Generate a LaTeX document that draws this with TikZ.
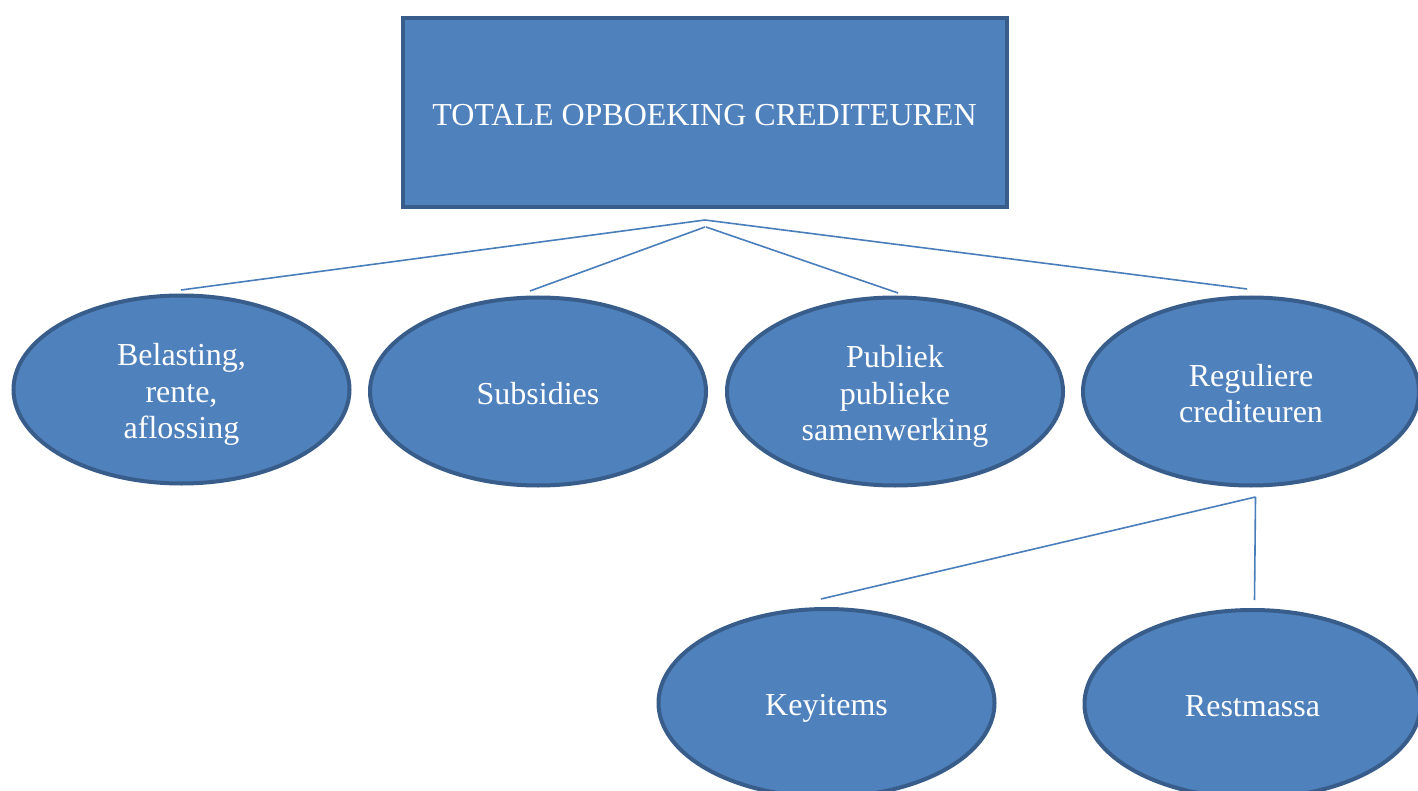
\documentclass[tikz,border=0pt]{standalone}
\usepackage{fontspec}
\setmainfont{Liberation Serif}
\usetikzlibrary{shapes.geometric}
\definecolor{boxfill}{HTML}{4F81BD}
\definecolor{boxline}{HTML}{385D8A}
\definecolor{linkcol}{HTML}{4A7EBB}
\newcommand{\sline}[1]{\strut #1}
\newcommand{\fline}[1]{\rule{0pt}{36.5pt}\strut #1}
\begin{document}
\begin{tikzpicture}[x=1pt,y=-1pt,
  every node/.style={font=\fontsize{32}{36.5}\selectfont, text=white, align=center},
  topbox/.style={draw=boxline, line width=4pt, fill=boxfill, rectangle, minimum width=604pt, minimum height=189pt, inner sep=0pt},
  oval/.style={draw=boxline, line width=4pt, fill=boxfill, ellipse, minimum width=336pt, minimum height=188pt, inner sep=0pt},
  link/.style={draw=linkcol, line width=1.6pt}]
\useasboundingbox (0,0) rectangle (1418,791);
\fill[white] (0,0) rectangle (1418,791);
\node[topbox] (top) at (704.5,113) {\fline{TOTALE OPBOEKING CREDITEUREN}};
\node[oval] (e1) at (181.5,389.5) {\fline{Belasting,}\\\sline{rente,}\\\sline{aflossing}};
\node[oval] (e2) at (538,391.5) {\fline{Subsidies}};
\node[oval] (e3) at (895,391.5) {\fline{Publiek}\\\sline{publieke}\\\sline{samenwerking}};
\node[oval] (e4) at (1251,391.5) {\fline{Reguliere}\\\sline{crediteuren}};
\node[oval] (e5) at (826.5,703) {\fline{Keyitems}};
\node[oval] (e6) at (1252.5,704) {\fline{Restmassa}};
\coordinate (hubA) at (705,220);
\coordinate (hubB) at (705,227);
\coordinate (hubC) at (1255.5,497);
\coordinate (t1) at (181,290);
\coordinate (t2) at (530,291);
\coordinate (t3) at (898,293);
\coordinate (t4) at (1247,289);
\coordinate (t5) at (821,599);
\coordinate (t6) at (1254.5,600);
\draw[link] (t1) -- (hubA) -- (t4);
\draw[link] (t2) -- (hubB);
\draw[link] (hubB) ++(1,0) -- (t3);
\draw[link] (t5) -- (hubC);
\draw[link] (hubC) -- (t6);
\end{tikzpicture}
\end{document}
